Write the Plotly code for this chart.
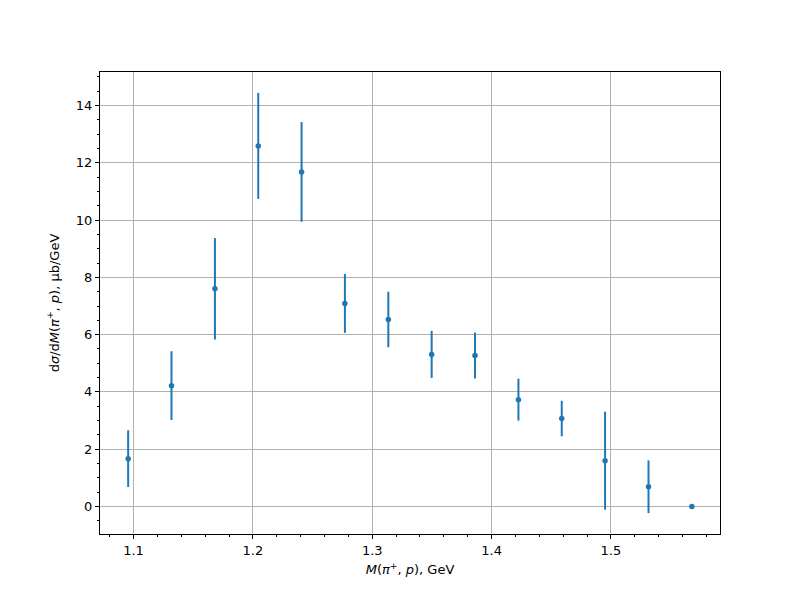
import plotly.graph_objects as go

mass = [1.0955, 1.1318, 1.1682, 1.2045, 1.2408, 1.2771, 1.3135, 1.3498,
        1.3861, 1.4225, 1.4588, 1.4951, 1.5315, 1.5678]
xsec = [1.67, 4.22, 7.60, 12.59, 11.68, 7.09, 6.53, 5.31, 5.27, 3.73, 3.07, 1.60, 0.69, 0.0]
err = [0.99, 1.20, 1.77, 1.85, 1.74, 1.03, 0.97, 0.82, 0.80, 0.73, 0.62, 1.71, 0.92, 0.0]

x_ticks = [1.1, 1.2, 1.3, 1.4, 1.5]
y_ticks = [0, 2, 4, 6, 8, 10, 12, 14]

blue = "#1f77b4"
font = "DejaVu Sans"

fig = go.Figure()
fig.add_trace(go.Scatter(
    x=mass, y=xsec, mode="markers",
    marker=dict(color=blue, size=5.5, line=dict(width=0)),
    error_y=dict(type="data", array=err, visible=True, color=blue, thickness=2, width=0),
    showlegend=False,
))

axis_common = dict(
    showline=True, linecolor="black", linewidth=1, mirror=True,
    ticks="outside", ticklen=4, tickwidth=1, tickcolor="black",
    showgrid=True, gridcolor="#b0b0b0", gridwidth=1,
    zeroline=False,
    tickfont=dict(family=font, size=13, color="black"),
)

fig.update_layout(
    width=800, height=600,
    margin=dict(l=92, r=88, t=64, b=74),
    paper_bgcolor="white", plot_bgcolor="white",
    font=dict(family=font, size=13, color="black"),
    xaxis=dict(
        **axis_common,
        range=[1.0719, 1.5914],
        tickvals=x_ticks, ticktext=[str(v) for v in x_ticks],
        minor=dict(ticks="outside", dtick=0.02, tick0=1.0, ticklen=2, tickcolor="black", showgrid=False),
        title=dict(text="<i>M</i>(<i>π</i><sup>+</sup>, <i>p</i>), GeV",
                   font=dict(family=font, size=13), standoff=8),
    ),
    yaxis=dict(
        **axis_common,
        range=[-0.96, 15.17],
        tickvals=y_ticks, ticktext=[str(v) for v in y_ticks],
        minor=dict(ticks="outside", dtick=0.5, tick0=0, ticklen=2, tickcolor="black", showgrid=False),
        title=dict(text="d<i>σ</i>/d<i>M</i>(<i>π</i><sup>+</sup>, <i>p</i>), μb/GeV",
                   font=dict(family=font, size=13), standoff=13),
    ),
)

fig.write_html("out.html")
